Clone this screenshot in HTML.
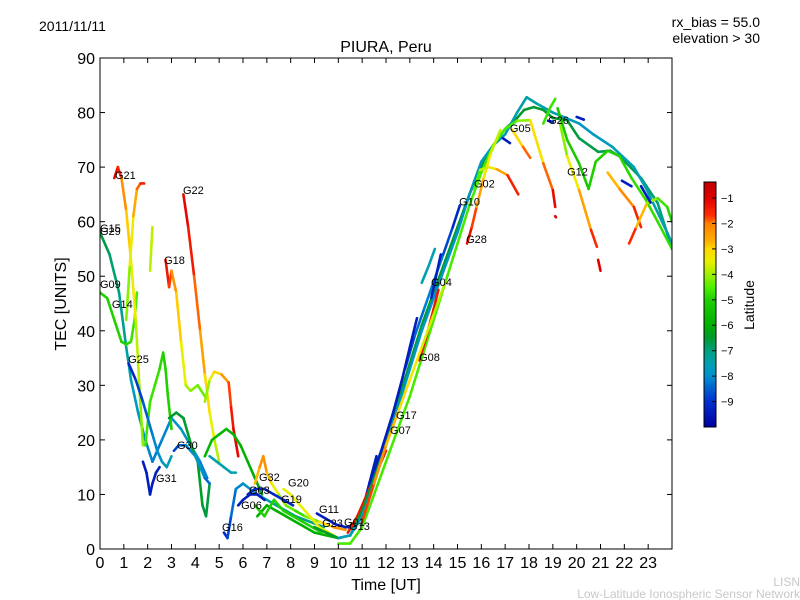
<!DOCTYPE html>
<html><head><meta charset="utf-8">
<style>
body{margin:0;background:#fff;}
svg{display:block;font-family:"Liberation Sans","DejaVu Sans",sans-serif;}
</style></head>
<body>
<svg id="chart" width="800" height="600" viewBox="0 0 800 600" xmlns="http://www.w3.org/2000/svg">
<rect x="0" y="0" width="800" height="600" fill="#fff"/>
<text x="39" y="31" font-size="14">2011/11/11</text>
<text x="760" y="27" font-size="14" text-anchor="end">rx_bias = 55.0</text>
<text x="760" y="43" font-size="14" text-anchor="end">elevation &gt; 30</text>
<text x="386" y="52" font-size="16" text-anchor="middle">PIURA, Peru</text>
<text x="386" y="590" font-size="16" text-anchor="middle">Time [UT]</text>
<text x="66" y="304" font-size="16" text-anchor="middle" transform="rotate(-90 66 304)">TEC [UNITS]</text>
<text x="800" y="586" font-size="12" fill="#c8c8c8" text-anchor="end">LISN</text>
<text x="800" y="598" font-size="12" fill="#c8c8c8" text-anchor="end">Low-Latitude Ionospheric Sensor Network</text>
<defs><clipPath id="pc"><rect x="100" y="58" width="572" height="491"/></clipPath>
<linearGradient id="jet" x1="0" y1="1" x2="0" y2="0"></linearGradient></defs>
<g id="marks" clip-path="url(#pc)"></g>
<g id="labels"></g>
<rect x="100" y="58" width="572" height="491" fill="none" stroke="#000" stroke-width="1"/>
<g id="axes"></g>
<rect x="704" y="182" width="12" height="245" fill="url(#jet)" stroke="#000" stroke-width="1"/>
<g id="cbticks"></g>
<text x="754" y="305" font-size="14" text-anchor="middle" transform="rotate(-90 754 305)">Latitude</text>
</svg>
<script>
const xTicks=[0,1,2,3,4,5,6,7,8,9,10,11,12,13,14,15,16,17,18,19,20,21,22,23];
const yTicks=[0,10,20,30,40,50,60,70,80,90];
const cbTicks=[-1,-2,-3,-4,-5,-6,-7,-8,-9];
const latMin=-10, latMax=-0.37;
const trackT=[
[0,0.4,0.8,1.1,1.3,1.6,1.9,2.2,2.6,3.0,3.4,3.8,4.2,4.5],
[0,0.3,0.6,0.9,1.1,1.3,1.45,1.55],
[0.6,0.75,0.9,1.1,1.3,1.5,1.65,1.8],
[1.1,1.25,1.4,1.55,1.7,1.85],
[2.1,2.2],
[2.75,2.9,3.0,3.2,3.4,3.6,3.8,4.1,4.4],
[3.5,3.7,3.95,4.2,4.4,4.6,4.8,5.0],
[4.4,4.6,4.8,5.1,5.4,5.5,5.6,5.8],
[1.9,2.1,2.3,2.5,2.65,2.75,2.85,3.0],
[2.9,3.2,3.5,3.7,3.9,4.1,4.3,4.45,4.6],
[1.8,1.95,2.1,2.2,2.35,2.5],
[1.2,1.5,1.8,2.0,2.2,2.4,2.6,2.8,3.0],
[3.1,3.3,3.6,3.8,4.0,4.2,4.4,4.6],
[4.4,4.7,5.0,5.3,5.6,5.9,6.2,6.5,6.8],
[4.6,4.9,5.2,5.5,5.7],
[5.2,5.35,5.5,5.7,6.0,6.3,6.6,7.0,7.4,7.8,8.2,8.8,9.4],
[5.8,6.0,6.3,6.6,6.9],
[6.5,6.7,6.85,7.0,7.2,7.5,7.8,8.2,8.6,9.2,9.8,10.3],
[6.2,6.5,6.9,7.3,7.7,8.1],
[7.7,8.0,8.4,8.8,9.2,9.6,10.0],
[6.6,7.0,7.4,7.8,8.2,8.6,9.0,9.5,10.0],
[6.5,6.9,7.3,7.7,8.1,8.5,8.9,9.3],
[9.1,9.5,9.9,10.3,10.7,11.0,11.3,11.6],
[10.4,10.8,11.1,11.4,11.7,12.0],
[9.0,9.5,10.0,10.5,11.0,11.5,12.0,12.5,13.0,13.5,14.0,14.5,15.0,15.5,16.0,16.5,17.0,17.5,17.8,18.2,18.6,19.0,19.6,20.1,20.9,21.4,21.8,22.7,23.4,24],
[10,10.5,11,11.5,12,12.5,13,13.5,14,14.5,15,15.5,16,16.5,17,17.5,17.9,18.3,19.0,20.1,20.7,21.5,22.4,22.95,23.8,24],
[10,10.5,11,11.5,12,12.5,13,13.5,14,14.5,15,15.5,16,16.5,17,17.5,18.05,18.6,19.0,19.1],
[15.4,15.6,15.8,16.1,16.4,16.8],
[15.7,15.95,16.3,16.65,17.1,17.55],
[12.8,13.2,13.6,14,14.4,14.8,15.1],
[13.5,13.8,14.05],
[13.9,14.1,14.3],
[13.4,13.7,14.0,14.2],
[11.3,11.8,12.3,12.7,13.0,13.3],
[11,11.5,12,12.5,13,13.5,14,14.5],
[17.3,17.75,18.05],
[18.6,18.9,19.1],
[19.2,19.6,20.1,20.5,20.8,21.3,21.8,22.3,22.9,23.4,24],
[19.3,19.6,20.1,20.6,20.85],
[20.9,21.0],
[19.1,19.13],
[21.3,21.8,22.4,22.7],
[22.2,22.5,22.95,23.4,23.8,24],
[16.9,17.2],[18.8,19.0],[20.0,20.3],[21.9,22.3],[22.7,23.1]
];
const trackV=[
[58,54,47,37,31,25,20,16,20,24,22,19,16,13],
[47,46,42,38,37.5,38,42,47],
[68,70,68,62,53,42,30,19],
[42,52,61,66,67,67],
[51,59],
[53,48,51,47,38,30,29,30,28],
[65,59,50,40,32,25,20,16],
[27,31,32.5,32,30.5,26,22,17],
[19,27,30,33,36,33,28,22],
[24,25,24,21,18,16,8,6,12],
[16,14,10,12,14,15],
[34,31,27,24,21,18,16,15,17],
[18,19,19,18,17,15,13,12],
[17,20,21,22,21,19,16,13,10],
[17,16,15,14,14],
[3,2,6,11,12,11,10,9,8,7,6,5,4],
[8,9,10,10,9],
[12,15,17,14,12,10,8,7,6,5,4,3.5],
[10,11,11,10,9,8],
[11,10,8,6,4,3,2],
[6,8,7,6,5,4,3,2.5,2],
[8,6,9,7,6,5,4,3],
[6.5,5.5,4.5,4,4,7,12,17],
[3,6,9,12,15,18],
[4,3,2,2.5,7,13,20,27,34,41,47,53,59,65,70,74,77,79,80.5,81,80.5,79,78.6,75.3,72.8,73,72,68,63.4,55],
[2,2.5,6,12,19,26,33,40,46,52,58,65,71,74,76,80,82.8,81.7,80,78,76,73.7,70,65.8,58,56],
[1,1,4,10,16,22,28,35,42,49,56,63,69,74,77,78.5,78.6,70.7,65.8,62.7],
[56,59,62.7,68,72.6,76.8],
[66,69.5,70,69.6,68.5,65],
[33,39,44,49,54,59,63],
[48.8,52,55],
[46,50,54],
[34.6,39,44,47.5],
[12,18,25,31.5,37,42.3],
[5,12,19,25,31,37,43,49],
[76.8,73.7,71.7],
[78,81,82.5],
[80.8,75,70.7,66,71,73,72,68,64,60,55],
[78,72,65.8,58.5,55.4],
[53,51],
[61,60.8],
[69,66,62.7,59],
[56,59,63.4,64.3,62.7,60],
[75.3,74.4],[78.5,78.3],[79.2,78.7],[67.5,66.5],[66.5,63.5]
];
const trackLat=[
[-6.5,-6.8,-7,-7.3,-7.6,-7.8,-8,-8.2,-8.2,-8,-7.8,-7.8,-8,-8.3],
[-5,-5,-5,-5,-5,-4.8,-4.6,-4.5],
[-1,-1.3,-1.8,-2.6,-3.2,-3.6,-4,-4.3],
[-4.5,-3.8,-3,-2.2,-1.6,-1.3],
[-3.8,-3.8],
[-1.2,-1.5,-2,-2.6,-3.2,-3.7,-4.1,-4.3,-4.5],
[-1,-1.2,-1.6,-2.2,-2.8,-3.3,-3.7,-4],
[-4.5,-3.6,-3.2,-2.7,-2,-1.5,-1.2,-1],
[-4.7,-4.7,-4.7,-4.8,-5,-5,-5,-5],
[-6.5,-6.5,-6.5,-6.4,-6.3,-6.3,-6.5,-6.6,-6.6],
[-9.4,-9.4,-9.4,-9.4,-9.4,-9.4],
[-9.4,-9,-8.7,-8.4,-8.2,-8,-7.8,-7.6,-7.5],
[-9,-8.6,-8.3,-8,-7.8,-7.8,-8,-8.8],
[-5.8,-5.8,-5.8,-5.8,-5.8,-5.9,-6,-6.2,-6.4],
[-7.5,-7.5,-7.5,-7.5,-7.5],
[-9.3,-9,-8.5,-8.2,-8,-7.8,-7.6,-7.4,-7.2,-7,-7,-7,-7],
[-9.4,-9.4,-9.4,-9.4,-9.4],
[-3,-2.5,-2,-2.5,-3.2,-3.8,-4.2,-4.6,-5,-3.5,-2.5,-2],
[-9.2,-9.2,-9.2,-9.2,-9.2,-9.2],
[-3.5,-3.5,-3.5,-3.5,-3.5,-3.5,-3.5],
[-6,-6,-6,-6,-6,-6,-6,-6,-6],
[-5,-5,-5,-5,-5,-5,-5,-5],
[-9.4,-9.4,-9.4,-9.4,-9.4,-9.4,-9.4,-9.4],
[-1.3,-1.3,-1.3,-1.3,-1.3,-1.3],
[-6.5,-6.5,-6.5,-6.5,-6.5,-6.5,-6.5,-6.5,-6.5,-6.5,-6.5,-6.5,-6.5,-6.5,-6.5,-6.5,-6.5,-6.5,-6.5,-6.5,-6.5,-6.5,-6.5,-6.6,-6.7,-6.7,-6.7,-6.8,-6.9,-7],
[-7.6,-7.6,-7.6,-7.7,-7.8,-7.8,-7.8,-7.8,-7.8,-7.8,-7.8,-7.8,-7.8,-7.7,-7.6,-7.5,-7.4,-7.4,-7.5,-7.8,-7.8,-7.6,-7.5,-7.5,-7.4,-7.4],
[-4.6,-4.6,-4.6,-4.6,-4.6,-4.6,-4.6,-4.6,-4.6,-4.6,-4.6,-4.6,-4.6,-4.6,-4.6,-4.5,-3.8,-2.5,-1.3,-1],
[-1,-1.5,-2,-3,-3.5,-4],
[-5,-4,-3.5,-3,-2,-1],
[-9,-8.5,-8.3,-8,-8.5,-9,-9.4],
[-7.5,-7.5,-7.5],
[-9.3,-9.3,-9.3],
[-1.3,-1.3,-1.3,-1.3],
[-9.4,-9.4,-9.4,-9.4,-9.4,-9.4],
[-1.5,-2,-2.5,-3,-3.2,-3.5,-3.8,-4],
[-3.5,-2.5,-1.3],
[-4.7,-4.7,-4.7],
[-5.2,-5.2,-5.2,-5.2,-5,-5,-5,-4.8,-4.8,-4.8,-4.8],
[-4.5,-3.8,-3,-2,-1.2],
[-1,-1],
[-1,-1],
[-3,-2.5,-1.8,-1.2],
[-1.2,-2,-3.5,-4.5,-4.8,-5],
[-9.4,-9.4],[-9.4,-9.4],[-9.4,-9.4],[-9.4,-9.4],[-9.4,-9.4]
];
const labelNames=["G21","G22","G15","G29","G18","G09","G14","G25","G30","G31","G16","G06","G03","G32","G20","G19","G11","G23","G01","G13","G08","G07","G17","G04","G28","G10","G02","G05","G26","G12"];
const labelT=[0.63,3.48,0,0,2.69,0,0.5,1.18,3.23,2.35,5.12,5.92,6.25,6.67,7.89,7.6,9.19,9.32,10.24,10.45,13.39,12.17,12.42,13.89,15.36,15.07,15.69,17.2,18.8,19.6];
const labelV=[67.8,65.1,58.1,57.6,52.2,47.8,44.2,34.1,18.3,12.3,3.3,7.3,10.1,12.5,11.5,8.4,6.6,4.0,4.2,3.5,34.5,21.1,23.8,48.2,56.1,63.0,66.3,76.4,77.9,68.5];

const cmapLat=[-10,-9,-8.5,-8,-7.5,-7,-6.5,-6,-5,-4.5,-4,-3.5,-3,-2.7,-2,-1.7,-1,-0.37];
const cmapRGB=[[0,0,160],[0,48,208],[0,96,208],[0,144,208],[0,160,176],[0,160,128],[0,154,48],[0,176,0],[32,208,0],[80,240,0],[160,240,0],[232,240,0],[255,216,0],[255,176,0],[255,128,0],[255,48,0],[224,0,0],[192,0,0]];

const NS="http://www.w3.org/2000/svg";
function xS(t){return 100+t*572/24;}
function yS(v){return 549-v*491/90;}
function cbY(l){return 427-(l-latMin)/(latMax-latMin)*245;}
function latColor(l){
 l=Math.max(cmapLat[0],Math.min(cmapLat[cmapLat.length-1],l));
 for(let i=0;i<cmapLat.length-1;i++){
  if(l<=cmapLat[i+1]){const f=(l-cmapLat[i])/(cmapLat[i+1]-cmapLat[i]);
   const a=cmapRGB[i],b=cmapRGB[i+1];
   return `rgb(${Math.round(a[0]+(b[0]-a[0])*f)},${Math.round(a[1]+(b[1]-a[1])*f)},${Math.round(a[2]+(b[2]-a[2])*f)})`;}
 }
 return 'rgb(192,0,0)';
}
function mk(tag,attrs,parent){const e=document.createElementNS(NS,tag);for(const k in attrs)e.setAttribute(k,attrs[k]);parent.appendChild(e);return e;}

const grad=document.getElementById('jet');
cmapLat.forEach((l,i)=>{mk('stop',{offset:(l-latMin)/(latMax-latMin),'stop-color':latColor(l)},grad);});

const marks=document.getElementById('marks');
trackT.forEach((ts,i)=>{
 const g=mk('g',{},marks);
 
 
 for(let j=0;j<ts.length-1;j++){
  const l=(trackLat[i][j]+trackLat[i][j+1])/2;
  const seg=mk('line',{x1:xS(ts[j]),y1:yS(trackV[i][j]),x2:xS(ts[j+1]),y2:yS(trackV[i][j+1]),stroke:latColor(l),'stroke-width':2.6,'stroke-linecap':'round'},g);
  
  
 }
});
const labels=document.getElementById('labels');
labelNames.forEach((n,i)=>{
 const t=mk('text',{x:xS(labelT[i]),y:yS(labelV[i]),'font-size':11},labels);
 t.textContent=n;
 
 
});
const axes=document.getElementById('axes');
xTicks.forEach(v=>{
 const x=xS(v);
 const a=mk('line',{x1:x,y1:549,x2:x,y2:544,stroke:'#000'},axes);
 
 const b=mk('line',{x1:x,y1:58,x2:x,y2:63,stroke:'#000'},axes);
 
 const t=mk('text',{x:x,y:568,'font-size':16,'text-anchor':'middle'},axes);t.textContent=v;
 
});
yTicks.forEach(v=>{
 const y=yS(v);
 const a=mk('line',{x1:100,y1:y,x2:105,y2:y,stroke:'#000'},axes);
 
 const b=mk('line',{x1:667,y1:y,x2:672,y2:y,stroke:'#000'},axes);
 
 const t=mk('text',{x:95,y:y+6,'font-size':16,'text-anchor':'end'},axes);t.textContent=v;
 
});
const cb=document.getElementById('cbticks');
cbTicks.forEach(v=>{
 const y=cbY(v);
 const a=mk('line',{x1:712,y1:y,x2:716,y2:y,stroke:'#000'},cb);
 
 const t=mk('text',{x:721,y:y+4,'font-size':11},cb);t.textContent='\u2212'+Math.abs(v);
 
});
</script>
</body></html>
